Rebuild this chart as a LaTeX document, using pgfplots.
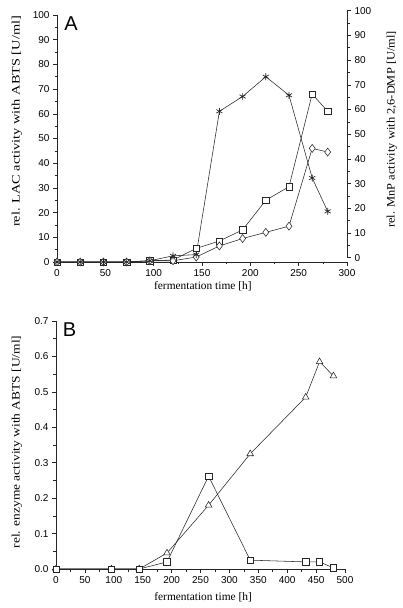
\documentclass[border=0pt]{standalone}
\usepackage{fontspec}
\setmainfont{Liberation Serif}
\newfontfamily\sansf{Liberation Sans}
\usepackage{graphicx}
\usepackage{pgfplots}
\pgfplotsset{compat=1.18}
\pgfplotsset{
  common/.style={scale only axis, clip=false, tick align=outside,
    axis line style={-, line width=0.6pt, black!85},
    tick style={line width=0.5pt, black!85},
    major tick length=4pt, minor tick length=2.5pt,
    tick label style={font=\sansf\fontsize{10}{12}\selectfont},
    /pgf/number format/assume math mode=true,
    label style={font=\fontsize{11.4}{13}\selectfont}},
  ln/.style={black!85, line width=0.55pt, mark options={solid, fill=white, line width=0.55pt}},
}
\begin{document}
\begin{tikzpicture}
\path[use as bounding box] (0pt,0pt) rectangle (402pt,608pt);
% Panel A
\begin{axis}[common, at={(57pt,346pt)}, anchor=south west, width=290pt, height=247pt,
  xmin=0, xmax=300, ymin=0, ymax=100,
  axis x line*=bottom, axis y line*=left,
  xtick={0,50,...,300}, minor x tick num=1,
  ytick={0,10,...,100}, minor y tick num=1,
  xlabel={fermentation time [h]},
  xlabel style={at={(axis description cs:0.503,-0.097)}, anchor=center},
  ylabel={\scalebox{1.26}[1]{rel. LAC activity with ABTS [U/ml]}},
  ylabel style={at={(axis description cs:-0.138,0.569)}, anchor=center}]
\addplot[ln, mark=square*, mark size=3.2pt] coordinates {
 (0,0) (24,0) (48,0) (72,0) (96,0.5) (120,0.8) (144,5.5) (168,8.5) (192,13) (216,25) (240,30.5) (264,68) (280,61)};
\addplot[ln, mark=diamond*, mark size=4pt] coordinates {
 (0,0) (24,0) (48,0) (72,0) (96,0.5) (120,0.5) (144,2) (168,6.5) (192,9.5) (216,12) (240,14.5) (264,46) (280,44.5)};
\addplot[ln, mark=asterisk, mark size=3.5pt, mark options={line width=0.7pt}] coordinates {
 (0,0) (24,0) (48,0) (72,0) (96,0.5) (120,2.5) (144,3) (168,61) (192,67) (216,75) (240,67.5) (264,34) (280,20.5)};
\end{axis}
\begin{axis}[common, at={(347pt,350.3pt)}, anchor=south east, width=290pt, height=247pt,
  xmin=0, xmax=300, ymin=0, ymax=100,
  axis x line=none, axis y line*=right,
  ytick={0,10,...,100}, minor y tick num=1,
  ylabel={\scalebox{1.09}[1]{rel. MnP activity with 2,6-DMP [U/ml]}},
  ylabel style={at={(axis description cs:1.155,0.519)}, anchor=center}]
\end{axis}
\node[font=\sansf\fontsize{20}{20}\selectfont] at (71pt,584pt) {A};
% Panel B
\begin{axis}[common, at={(56pt,39pt)}, anchor=south west, width=289pt, height=248pt,
  xmin=0, xmax=500, ymin=0, ymax=0.7,
  axis x line*=bottom, axis y line*=left,
  xtick={0,50,...,500}, minor x tick num=1,
  ytick={0,0.1,...,0.7}, minor y tick num=1,
  yticklabel style={/pgf/number format/.cd, fixed, fixed zerofill, precision=1},
  xlabel={fermentation time [h]},
  xlabel style={at={(axis description cs:0.509,-0.113)}, anchor=center},
  ylabel={\scalebox{1.18}[1]{rel. enzyme activity with ABTS [U/ml]}},
  ylabel style={at={(axis description cs:-0.135,0.512)}, anchor=center}]
\addplot[ln, mark=triangle*, mark size=3.8pt] coordinates {
 (0,0) (96,0) (144,0) (192,0.045) (264,0.18) (336,0.325) (432,0.485) (456,0.585) (480,0.545)};
\addplot[ln, mark=square*, mark size=3.2pt] coordinates {
 (0,0) (96,0) (144,0) (192,0.02) (264,0.262) (336,0.025) (432,0.02) (456,0.02) (480,0.003)};
\end{axis}
\node[font=\sansf\fontsize{20}{20}\selectfont] at (69.5pt,278pt) {B};
\end{tikzpicture}
\end{document}
